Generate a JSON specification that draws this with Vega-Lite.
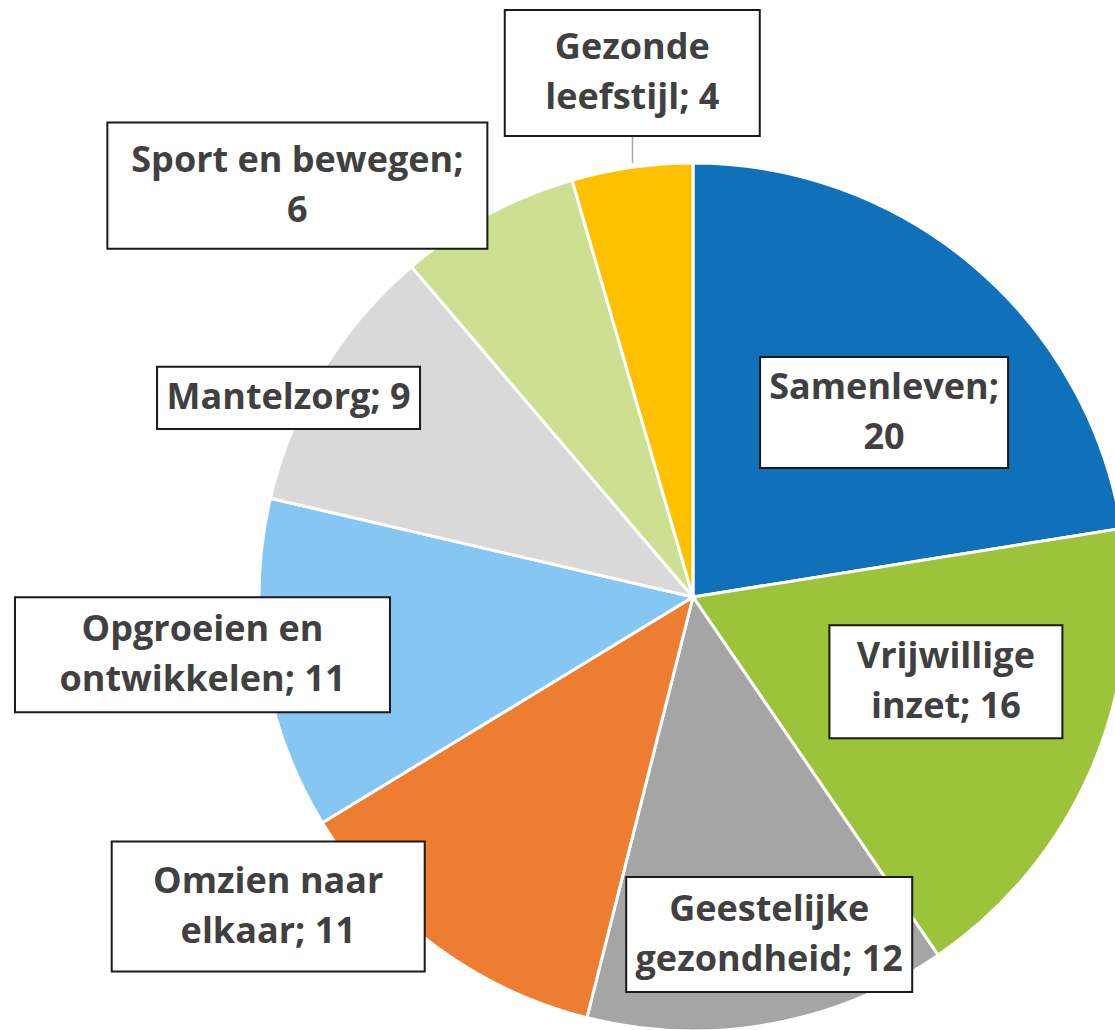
{
  "$schema": "https://vega.github.io/schema/vega-lite/v6.json",
  "width": 1115,
  "height": 1030,
  "padding": 0,
  "background": "white",
  "config": {"view": {"stroke": null}},
  "data": {"values": [
    {"i": 1, "cat": "Samenleven", "n": 20, "label": "Samenleven;\n20"},
    {"i": 2, "cat": "Vrijwillige inzet", "n": 16, "label": "Vrijwillige\ninzet; 16"},
    {"i": 3, "cat": "Geestelijke gezondheid", "n": 12, "label": "Geestelijke\ngezondheid; 12"},
    {"i": 4, "cat": "Omzien naar elkaar", "n": 11, "label": "Omzien naar\nelkaar; 11"},
    {"i": 5, "cat": "Opgroeien en ontwikkelen", "n": 11, "label": "Opgroeien en\nontwikkelen; 11"},
    {"i": 6, "cat": "Mantelzorg", "n": 9, "label": "Mantelzorg; 9"},
    {"i": 7, "cat": "Sport en bewegen", "n": 6, "label": "Sport en bewegen;\n6"},
    {"i": 8, "cat": "Gezonde leefstijl", "n": 4, "label": "Gezonde\nleefstijl; 4"}
  ]},
  "transform": [
    {"stack": "n", "groupby": [], "sort": [{"field": "i", "order": "ascending"}], "as": ["v0", "v1"]},
    {"joinaggregate": [{"op": "sum", "field": "n", "as": "total"}]}
  ],
  "layer": [
    {
      "mark": {"type": "arc", "radius": 434, "stroke": "white", "strokeWidth": 3},
      "encoding": {
        "x": {"value": 693},
        "y": {"value": 597},
        "theta": {"field": "n", "type": "quantitative", "stack": true},
        "order": {"field": "i", "type": "quantitative", "sort": "ascending"},
        "color": {
          "field": "cat", "type": "nominal", "legend": null,
          "scale": {
            "domain": ["Samenleven", "Vrijwillige inzet", "Geestelijke gezondheid", "Omzien naar elkaar", "Opgroeien en ontwikkelen", "Mantelzorg", "Sport en bewegen", "Gezonde leefstijl"],
            "range": ["#1070b9", "#9dc33b", "#a5a5a5", "#ed7d31", "#86c6f3", "#d9d9d9", "#cddf91", "#ffc000"]
          }
        }
      }
    },
    {
      "transform": [
        {"filter": "datum.cat === 'Gezonde leefstijl'"},
        {"calculate": "2*PI*datum.v0/datum.total + 0.148", "as": "a"},
        {"calculate": "693 + 451.6*sin(datum.a)", "as": "bx"},
        {"calculate": "597 - 451.6*cos(datum.a)", "as": "by"}
      ],
      "mark": {"type": "point", "shape": "M0,-1V1", "size": 729, "filled": false, "stroke": "#a6a6a6", "strokeWidth": 1.5, "opacity": 1},
      "encoding": {
        "x": {"field": "bx", "type": "quantitative", "scale": null},
        "y": {"field": "by", "type": "quantitative", "scale": null}
      }
    },
    {
      "transform": [
        {"filter": "datum.cat === 'Samenleven'"},
        {"calculate": "2*PI*datum.v0/datum.total + 0.803", "as": "a"},
        {"calculate": "693 + 265.6*sin(datum.a)", "as": "bx"},
        {"calculate": "597 - 265.6*cos(datum.a)", "as": "by"}
      ],
      "encoding": {
        "x": {"field": "bx", "type": "quantitative", "scale": null},
        "y": {"field": "by", "type": "quantitative", "scale": null}
      },
      "layer": [
        {"mark": {"type": "point", "shape": "M-1,-0.4476H1V0.4476H-1Z", "size": 61504, "filled": true, "fill": "white", "stroke": "#1a1a1a", "strokeWidth": 2, "opacity": 1}},
        {"mark": {"type": "text", "lineBreak": "\n", "font": "Open Sans", "fontWeight": "bold", "fontSize": 36, "lineHeight": 50, "fill": "#404040", "align": "center", "baseline": "middle", "dy": -25}, "encoding": {"text": {"field": "label"}}}
      ]
    },
    {
      "transform": [
        {"filter": "datum.cat === 'Vrijwillige inzet'"},
        {"calculate": "2*PI*datum.v0/datum.total + 0.482", "as": "a"},
        {"calculate": "693 + 266.7*sin(datum.a)", "as": "bx"},
        {"calculate": "597 - 266.7*cos(datum.a)", "as": "by"}
      ],
      "encoding": {
        "x": {"field": "bx", "type": "quantitative", "scale": null},
        "y": {"field": "by", "type": "quantitative", "scale": null}
      },
      "layer": [
        {"mark": {"type": "point", "shape": "M-1,-0.485H1V0.485H-1Z", "size": 54289, "filled": true, "fill": "white", "stroke": "#1a1a1a", "strokeWidth": 2, "opacity": 1}},
        {"mark": {"type": "text", "lineBreak": "\n", "font": "Open Sans", "fontWeight": "bold", "fontSize": 36, "lineHeight": 50, "fill": "#404040", "align": "center", "baseline": "middle", "dy": -25}, "encoding": {"text": {"field": "label"}}}
      ]
    },
    {
      "transform": [
        {"filter": "datum.cat === 'Geestelijke gezondheid'"},
        {"calculate": "2*PI*datum.v0/datum.total + 0.378", "as": "a"},
        {"calculate": "693 + 346*sin(datum.a)", "as": "bx"},
        {"calculate": "597 - 346*cos(datum.a)", "as": "by"}
      ],
      "encoding": {
        "x": {"field": "bx", "type": "quantitative", "scale": null},
        "y": {"field": "by", "type": "quantitative", "scale": null}
      },
      "layer": [
        {"mark": {"type": "point", "shape": "M-1,-0.402H1V0.402H-1Z", "size": 81796, "filled": true, "fill": "white", "stroke": "#1a1a1a", "strokeWidth": 2, "opacity": 1}},
        {"mark": {"type": "text", "lineBreak": "\n", "font": "Open Sans", "fontWeight": "bold", "fontSize": 36, "lineHeight": 50, "fill": "#404040", "align": "center", "baseline": "middle", "dy": -25}, "encoding": {"text": {"field": "label"}}}
      ]
    },
    {
      "transform": [
        {"filter": "datum.cat === 'Omzien naar elkaar'"},
        {"calculate": "2*PI*datum.v0/datum.total + 0.694", "as": "a"},
        {"calculate": "693 + 525.6*sin(datum.a)", "as": "bx"},
        {"calculate": "597 - 525.6*cos(datum.a)", "as": "by"}
      ],
      "encoding": {
        "x": {"field": "bx", "type": "quantitative", "scale": null},
        "y": {"field": "by", "type": "quantitative", "scale": null}
      },
      "layer": [
        {"mark": {"type": "point", "shape": "M-1,-0.415H1V0.415H-1Z", "size": 97969, "filled": true, "fill": "white", "stroke": "#1a1a1a", "strokeWidth": 2, "opacity": 1}},
        {"mark": {"type": "text", "lineBreak": "\n", "font": "Open Sans", "fontWeight": "bold", "fontSize": 36, "lineHeight": 50, "fill": "#404040", "align": "center", "baseline": "middle", "dy": -25}, "encoding": {"text": {"field": "label"}}}
      ]
    },
    {
      "transform": [
        {"filter": "datum.cat === 'Opgroeien en ontwikkelen'"},
        {"calculate": "2*PI*datum.v0/datum.total + 0.430", "as": "a"},
        {"calculate": "693 + 493.9*sin(datum.a)", "as": "bx"},
        {"calculate": "597 - 493.9*cos(datum.a)", "as": "by"}
      ],
      "encoding": {
        "x": {"field": "bx", "type": "quantitative", "scale": null},
        "y": {"field": "by", "type": "quantitative", "scale": null}
      },
      "layer": [
        {"mark": {"type": "point", "shape": "M-1,-0.307H1V0.307H-1Z", "size": 140625, "filled": true, "fill": "white", "stroke": "#1a1a1a", "strokeWidth": 2, "opacity": 1}},
        {"mark": {"type": "text", "lineBreak": "\n", "font": "Open Sans", "fontWeight": "bold", "fontSize": 36, "lineHeight": 50, "fill": "#404040", "align": "center", "baseline": "middle", "dy": -25}, "encoding": {"text": {"field": "label"}}}
      ]
    },
    {
      "transform": [
        {"filter": "datum.cat === 'Mantelzorg'"},
        {"calculate": "2*PI*datum.v0/datum.total + 0.228", "as": "a"},
        {"calculate": "693 + 450.8*sin(datum.a)", "as": "bx"},
        {"calculate": "597 - 450.8*cos(datum.a)", "as": "by"}
      ],
      "encoding": {
        "x": {"field": "bx", "type": "quantitative", "scale": null},
        "y": {"field": "by", "type": "quantitative", "scale": null}
      },
      "layer": [
        {"mark": {"type": "point", "shape": "M-1,-0.236H1V0.236H-1Z", "size": 69169, "filled": true, "fill": "white", "stroke": "#1a1a1a", "strokeWidth": 2, "opacity": 1}},
        {"mark": {"type": "text", "lineBreak": "\n", "font": "Open Sans", "fontWeight": "bold", "fontSize": 36, "lineHeight": 50, "fill": "#404040", "align": "center", "baseline": "middle", "dy": 0}, "encoding": {"text": {"field": "label"}}}
      ]
    },
    {
      "transform": [
        {"filter": "datum.cat === 'Sport en bewegen'"},
        {"calculate": "2*PI*datum.v0/datum.total - 0.060", "as": "a"},
        {"calculate": "693 + 570.7*sin(datum.a)", "as": "bx"},
        {"calculate": "597 - 570.7*cos(datum.a)", "as": "by"}
      ],
      "encoding": {
        "x": {"field": "bx", "type": "quantitative", "scale": null},
        "y": {"field": "by", "type": "quantitative", "scale": null}
      },
      "layer": [
        {"mark": {"type": "point", "shape": "M-1,-0.332H1V0.332H-1Z", "size": 144400, "filled": true, "fill": "white", "stroke": "#1a1a1a", "strokeWidth": 2, "opacity": 1}},
        {"mark": {"type": "text", "lineBreak": "\n", "font": "Open Sans", "fontWeight": "bold", "fontSize": 36, "lineHeight": 50, "fill": "#404040", "align": "center", "baseline": "middle", "dy": -25}, "encoding": {"text": {"field": "label"}}}
      ]
    },
    {
      "transform": [
        {"filter": "datum.cat === 'Gezonde leefstijl'"},
        {"calculate": "2*PI*datum.v0/datum.total + 0.167", "as": "a"},
        {"calculate": "693 + 527.5*sin(datum.a)", "as": "bx"},
        {"calculate": "597 - 527.5*cos(datum.a)", "as": "by"}
      ],
      "encoding": {
        "x": {"field": "bx", "type": "quantitative", "scale": null},
        "y": {"field": "by", "type": "quantitative", "scale": null}
      },
      "layer": [
        {"mark": {"type": "point", "shape": "M-1,-0.494H1V0.494H-1Z", "size": 65025, "filled": true, "fill": "white", "stroke": "#1a1a1a", "strokeWidth": 2, "opacity": 1}},
        {"mark": {"type": "text", "lineBreak": "\n", "font": "Open Sans", "fontWeight": "bold", "fontSize": 36, "lineHeight": 50, "fill": "#404040", "align": "center", "baseline": "middle", "dy": -25}, "encoding": {"text": {"field": "label"}}}
      ]
    }
  ]
}
